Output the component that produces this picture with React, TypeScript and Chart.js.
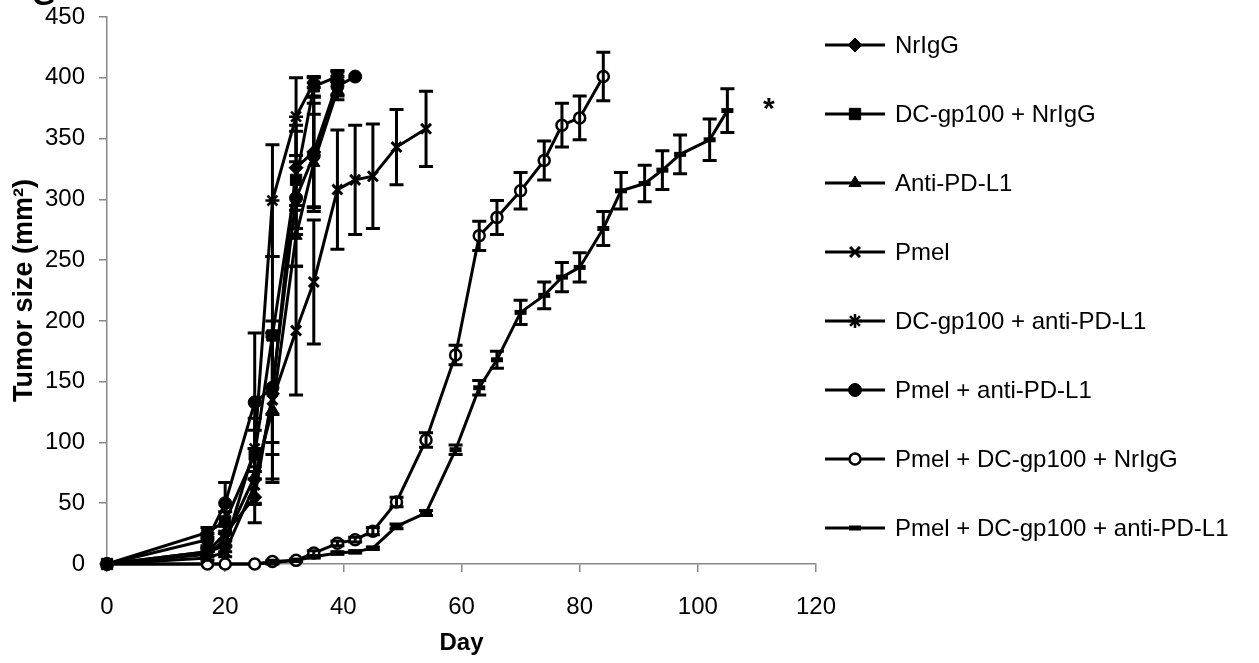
import React, { useEffect, useRef } from 'react';
import { Chart, registerables } from 'chart.js';
import { drawPoint } from 'chart.js/helpers';

Chart.register(...registerables);

// ---------- data ----------
const seriesNames = [
  'NrIgG',
  'DC-gp100 + NrIgG',
  'Anti-PD-L1',
  'Pmel',
  'DC-gp100 + anti-PD-L1',
  'Pmel + anti-PD-L1',
  'Pmel + DC-gp100 + NrIgG',
  'Pmel + DC-gp100 + anti-PD-L1',
];

const daysNrIgG = [0, 17, 20, 25, 28, 32, 35, 39];
const valsNrIgG = [0, 10, 25, 55, 140, 326, 339, 396];
const errNrIgG = [0, 3, 6, 21, 50, 35, 45, 10];

const daysDcNrIgG = [0, 17, 20, 25, 28, 32, 35, 39];
const valsDcNrIgG = [0, 26, 35, 90, 188, 316, 393, 401];
const errDcNrIgG = [0, 4, 8, 20, 65, 40, 8, 4];

const daysAntiPDL1 = [0, 17, 20, 25, 28, 32, 35, 39];
const valsAntiPDL1 = [0, 8, 20, 72, 127, 270, 330, 390];
const errAntiPDL1 = [0, 2, 5, 23, 60, 25, 40, 8];

const daysPmel = [0, 17, 20, 25, 28, 32, 35, 39, 42, 45, 49, 54];
const valsPmel = [0, 5, 10, 65, 135, 192, 232, 308, 316, 319, 343, 358];
const errPmel = [0, 2, 4, 15, 65, 53, 51, 49, 45, 43, 31, 31];

const daysDcAnti = [0, 17, 20, 25, 28, 32, 35];
const valsDcAnti = [0, 10, 15, 95, 299, 368, 396];
const errDcAnti = [0, 3, 5, 25, 46, 32, 4];

const daysPmelAnti = [0, 17, 20, 25, 28, 32, 35, 39, 42];
const valsPmelAnti = [0, 20, 50, 133, 145, 301, 336, 393, 401];
const errPmelAnti = [0, 5, 17, 57, 45, 30, 43, 8, 0];

const daysPmelDcNrIgG = [0, 17, 20, 25, 28, 32, 35, 39, 42, 45, 49, 54, 59, 63, 66, 70, 74, 77, 80, 84];
const valsPmelDcNrIgG = [0, 0, 0, 0, 2, 3, 9, 17, 20, 27, 51, 102, 172, 270, 285, 307, 332, 361, 367, 401];
const errPmelDcNrIgG = [0, 0, 0, 0, 1, 1, 2, 2, 2, 3, 4, 6, 8, 12, 14, 15, 16, 18, 18, 20];

const daysPmelDcAnti = [0, 17, 20, 25, 28, 32, 35, 39, 42, 45, 49, 54, 59, 63, 66, 70, 74, 77, 80, 84, 87, 91, 94, 97, 102, 105];
const valsPmelDcAnti = [0, 0, 0, 0, 1, 3, 6, 9, 10, 13, 31, 42, 94, 145, 168, 207, 221, 236, 244, 276, 307, 313, 324, 337, 349, 373];
const errPmelDcAnti = [0, 0, 0, 0, 1, 1, 1, 1, 1, 1, 2, 2, 4, 6, 7, 10, 11, 12, 12, 14, 15, 15, 16, 16, 17, 18];

const significanceMark = { day: 112, value: 378, text: '*' };
const panelLabel = 'G';

const xTicks = [0, 20, 40, 60, 80, 100, 120];
const yTicks = [0, 50, 100, 150, 200, 250, 300, 350, 400, 450];

// ---------- helpers ----------
const FONT = '"Liberation Sans", Arial, sans-serif';
const pts = (d: number[], v: number[]) => d.map((x, i) => ({ x, y: v[i] }));

type Style = { pointStyle: any; radius: number; bg: string; bw: number };
const styles: Style[] = [
  { pointStyle: 'rectRot', radius: 7, bg: '#000', bw: 1 },
  { pointStyle: 'rect', radius: 8, bg: '#000', bw: 1 },
  { pointStyle: 'triangle', radius: 7, bg: '#000', bw: 1 },
  { pointStyle: 'crossRot', radius: 7, bg: '#000', bw: 3 },
  { pointStyle: 'star', radius: 7, bg: '#000', bw: 2.5 },
  { pointStyle: 'circle', radius: 6.5, bg: '#000', bw: 1 },
  { pointStyle: 'circle', radius: 5.5, bg: '#fff', bw: 2.5 },
  { pointStyle: 'line', radius: 6, bg: '#000', bw: 5 },
];

const seriesData = [
  [daysNrIgG, valsNrIgG, errNrIgG],
  [daysDcNrIgG, valsDcNrIgG, errDcNrIgG],
  [daysAntiPDL1, valsAntiPDL1, errAntiPDL1],
  [daysPmel, valsPmel, errPmel],
  [daysDcAnti, valsDcAnti, errDcAnti],
  [daysPmelAnti, valsPmelAnti, errPmelAnti],
  [daysPmelDcNrIgG, valsPmelDcNrIgG, errPmelDcNrIgG],
  [daysPmelDcAnti, valsPmelDcAnti, errPmelDcAnti],
];

const errorBarPlugin = {
  id: 'errorBars',
  afterDatasetsDraw(chart: any) {
    const { ctx, scales } = chart;
    const x = scales.x, y = scales.y;
    ctx.save();
    ctx.strokeStyle = '#000';
    ctx.lineWidth = 3;
    chart.data.datasets.forEach((ds: any) => {
      const errs: number[] = ds.errors;
      if (!errs) return;
      ds.data.forEach((p: any, j: number) => {
        const e = errs[j];
        if (!e) return;
        const px = x.getPixelForValue(p.x);
        const yt = y.getPixelForValue(p.y + e);
        const yb = y.getPixelForValue(Math.max(0, p.y - e));
        ctx.beginPath();
        ctx.moveTo(px, yt);
        ctx.lineTo(px, yb);
        ctx.moveTo(px - 7, yt);
        ctx.lineTo(px + 7, yt);
        ctx.moveTo(px - 7, yb);
        ctx.lineTo(px + 7, yb);
        ctx.stroke();
      });
    });
    ctx.restore();
  },
};

const legendPlugin = {
  id: 'customLegend',
  afterDraw(chart: any) {
    const { ctx, scales } = chart;
    ctx.save();
    const lx0 = 825, lx1 = 885, mx = 855, tx = 895, top = 45, gap = 69;
    chart.data.datasets.forEach((ds: any, i: number) => {
      const yy = top + i * gap;
      ctx.strokeStyle = '#000';
      ctx.lineWidth = 3;
      ctx.beginPath();
      ctx.moveTo(lx0, yy);
      ctx.lineTo(lx1, yy);
      ctx.stroke();
      ctx.fillStyle = ds.pointBackgroundColor;
      ctx.strokeStyle = '#000';
      ctx.lineWidth = ds.pointBorderWidth;
      drawPoint(ctx, { pointStyle: ds.pointStyle, radius: ds.pointRadius, borderWidth: ds.pointBorderWidth, rotation: 0 } as any, mx, yy);
      ctx.fillStyle = '#000';
      ctx.font = `24px ${FONT}`;
      ctx.textBaseline = 'middle';
      ctx.textAlign = 'left';
      ctx.fillText(ds.label, tx, yy + 1);
    });
    // significance mark
    ctx.font = `bold 30px ${FONT}`;
    ctx.textAlign = 'center';
    ctx.textBaseline = 'middle';
    ctx.fillText(significanceMark.text, scales.x.getPixelForValue(significanceMark.day), scales.y.getPixelForValue(significanceMark.value) + 5);
    // panel label (cut off at top)
    ctx.font = `bold 30px ${FONT}`;
    ctx.textAlign = 'left';
    ctx.textBaseline = 'alphabetic';
    ctx.fillText(panelLabel, 32, 5);
    ctx.restore();
  },
};

export default function App() {
  const ref = useRef<HTMLCanvasElement>(null);
  useEffect(() => {
    document.body.style.margin = '0';
    const canvas = ref.current!;
    const datasets = seriesNames.map((name, i) => {
      const [d, v, e] = seriesData[i];
      const s = styles[i];
      return {
        label: name,
        data: pts(d, v),
        errors: e,
        borderColor: '#000',
        borderWidth: 3,
        pointStyle: s.pointStyle,
        pointRadius: s.radius,
        pointBackgroundColor: s.bg,
        pointBorderColor: '#000',
        pointBorderWidth: s.bw,
        pointHoverRadius: s.radius,
        tension: 0,
        clip: false as any,
      };
    });
    const chart = new Chart(canvas, {
      type: 'line',
      data: { datasets: datasets as any },
      options: {
        animation: false,
        responsive: false,
        layout: { padding: { left: 0, top: 17, right: 443, bottom: 0 } },
        plugins: { legend: { display: false }, tooltip: { enabled: false } },
        scales: {
          x: {
            type: 'linear',
            min: 0,
            max: 120,
            afterBuildTicks: (sc: any) => { sc.ticks = xTicks.map((v) => ({ value: v })); },
            afterFit: (sc: any) => { sc.height = 99; },
            grid: { drawOnChartArea: false, drawTicks: true, tickLength: 8, color: '#888', lineWidth: 1.5 },
            border: { display: true, color: '#888', width: 1.5 },
            ticks: { color: '#000', font: { family: FONT, size: 24 }, padding: 21, maxRotation: 0 },
            title: { display: true, text: 'Day', color: '#000', font: { family: FONT, size: 24, weight: 'bold' }, padding: { top: 0, bottom: 5 } },
          },
          y: {
            type: 'linear',
            min: 0,
            max: 450,
            afterBuildTicks: (sc: any) => { sc.ticks = yTicks.map((v) => ({ value: v })); },
            afterFit: (sc: any) => { sc.width = 107; sc.paddingTop = 0; sc.paddingBottom = 0; },
            grid: { drawOnChartArea: false, drawTicks: true, tickLength: 8, color: '#888', lineWidth: 1.5 },
            border: { display: true, color: '#888', width: 1.5 },
            ticks: { color: '#000', font: { family: FONT, size: 24 }, padding: 14 },
            title: { display: true, text: 'Tumor size (mm²)', color: '#000', font: { family: FONT, size: 27, weight: 'bold' }, padding: { top: 8, bottom: 0 } },
          },
        },
      },
      plugins: [errorBarPlugin, legendPlugin],
    });
    return () => chart.destroy();
  }, []);
  return (
    <div style={{ width: 1259, height: 663, background: '#fff' }}>
      <canvas ref={ref} width={1259} height={663} style={{ display: 'block' }} />
    </div>
  );
}
